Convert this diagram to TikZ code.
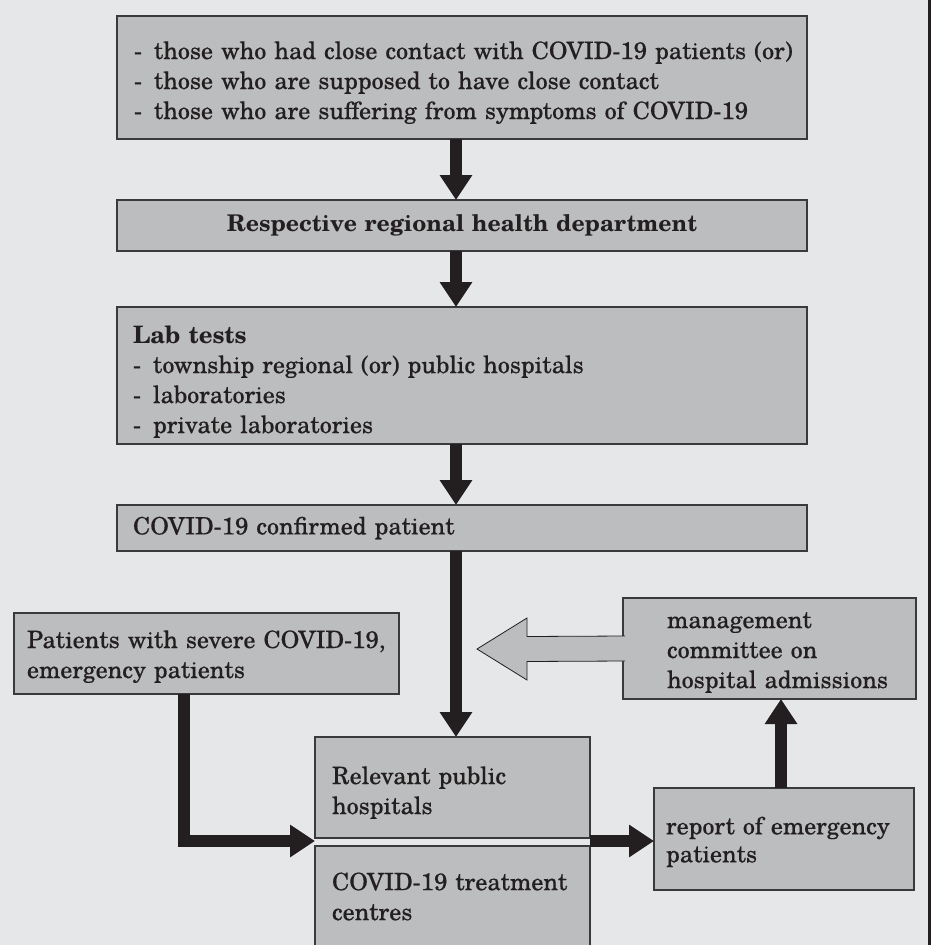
\documentclass[tikz,border=0pt]{standalone}
\usepackage{fontspec}
\setmainfont{TeX Gyre Schola}[UprightFeatures={FakeBold=0.3}]
\usetikzlibrary{arrows.meta,calc}
\definecolor{bg}{HTML}{E6E7E8}
\definecolor{boxfill}{HTML}{BCBDBF}
\definecolor{boxline}{HTML}{3A3A3C}
\definecolor{ink}{HTML}{231F20}
\begin{document}
\begin{tikzpicture}[x=1pt,y=-1pt,
  box/.style={draw=boxline, line width=1.3pt, fill=boxfill, anchor=north west,
    inner xsep=4pt, inner ysep=0pt, outer sep=0pt, text=ink, align=left,
    font=\fontsize{24}{30}\selectfont},
  flow/.style={draw=ink, line width=12pt, line join=miter, -{Triangle[width=31pt,length=25pt]}},
  hollow/.style={draw=ink, line width=0.8pt, fill=boxfill, line join=miter}]
\useasboundingbox (0,0) rectangle (931,945);
\fill[bg] (0,0) rectangle (931,945);
\draw[ink, line width=3pt] (929.5,0) -- (929.5,945);

\node[box, minimum width=690pt, minimum height=123pt, text width=682pt] (b1) at (117,16)
  {\leftskip=13pt\relax\rule{0pt}{28pt}%
   -\enspace those who had close contact with COVID-19 patients (or)\\
   -\enspace those who are supposed to have close contact\\
   -\enspace those who are suffering from symptoms of COVID-19\par};
\node[box, minimum width=690pt, minimum height=51pt, text width=682pt, align=center,
  font=\fontsize{23}{28}\selectfont] (b2) at (117,200)
  {\bfseries Respective regional health department};
\node[box, minimum width=690pt, minimum height=137pt, text width=682pt] (b3) at (117,307)
  {\leftskip=12pt\relax\rule{0pt}{30pt}%
   \textbf{Lab tests}\\
   -\enspace township regional (or) public hospitals\\
   -\enspace laboratories\\
   -\enspace private laboratories\par};
\node[box, minimum width=690pt, minimum height=46pt, text width=682pt] (b4) at (117,505)
  {\leftskip=12pt\relax COVID-19 confirmed patient\par};
\node[box, minimum width=385pt, minimum height=81pt, text width=377pt] (pat) at (14,613)
  {\leftskip=9pt\relax\rule{0pt}{24pt}%
   Patients with severe COVID-19,\\ emergency patients\par};
\node[box, minimum width=275pt, minimum height=101pt, text width=267pt] (rel) at (315,737)
  {\leftskip=13pt\relax\rule{0pt}{28pt}%
   Relevant public\\ hospitals\par};
\node[box, minimum width=275pt, minimum height=101pt, text width=267pt] (trt) at (315,846)
  {\leftskip=13pt\relax COVID-19 treatment\\ centres\par};
\node[box, minimum width=293pt, minimum height=101pt, text width=285pt] (mgmt) at (623,598)
  {\leftskip=40pt\relax\rule{0pt}{24pt}%
   management\\ committee on\\ hospital admissions\par};
\node[box, minimum width=260pt, minimum height=102pt, text width=252pt,
  font=\fontsize{24}{28}\selectfont] (rep) at (654,788)
  {\leftskip=8pt\relax\rule{0pt}{23.5pt}%
   report of emergency\\ patients\par};

\coordinate (ax) at (456,0);
\coordinate (ex) at (184,841);
\coordinate (ux) at (781,0);
\coordinate (htip) at (477,649);

\draw[flow] (b1.south -| ax) -- (b2.north -| ax);
\draw[flow] (b2.south -| ax) -- (b3.north -| ax);
\draw[flow] (b3.south -| ax) -- (b4.north -| ax);
\draw[flow] (b4.south -| ax) -- (rel.north -| ax);
\draw[flow] (pat.south -| ex) |- (rel.west |- ex);
\draw[flow] (rel.east |- ex) -- (rep.west |- ex);
\draw[flow] (rep.north -| ux) -- (mgmt.south -| ux);
\filldraw[hollow] ($(mgmt.west)+(2,-12.5)$) -- ($(htip)+(50,-12.5)$) -- ($(htip)+(50,-31)$)
  -- (htip) -- ($(htip)+(50,31)$) -- ($(htip)+(50,12.5)$) -- ($(mgmt.west)+(2,12.5)$);
\end{tikzpicture}
\end{document}
